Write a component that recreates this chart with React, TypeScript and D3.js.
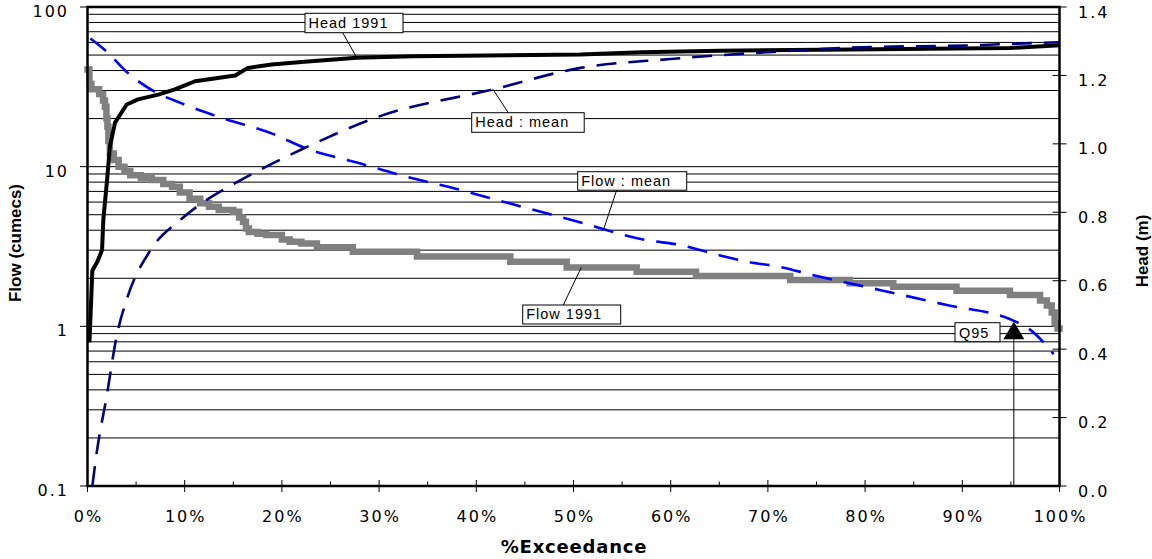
import React from 'react';
import * as d3 from 'd3';

// ---------- data ----------
const pctTicks = [0, 10, 20, 30, 40, 50, 60, 70, 80, 90, 100];
const pctMinorTicks = [5, 15, 25, 35, 45, 55, 65, 75, 85, 95];
const flowTicks = [0.1, 1, 10, 100];
const flowTickLabels = ['0.1', '1', '10', '100'];
const headTicks = [0, 0.2, 0.4, 0.6, 0.8, 1.0, 1.2, 1.4];
const headTickLabels = ['0.0', '0.2', '0.4', '0.6', '0.8', '1.0', '1.2', '1.4'];

// Flow 1991 (cumecs) — step series [pct exceedance, flow]
const flow1991: [number, number][] = [
  [0, 40.6], [0.2, 33], [0.4, 30.5], [1.2, 28.5], [1.6, 26], [1.8, 23.7], [1.95, 20],
  [2.05, 17.8], [2.15, 14.5], [2.3, 12.1], [2.7, 11], [3.2, 10], [3.8, 9.4], [4.4, 8.85],
  [5.5, 8.5], [6.6, 8.24], [7.8, 7.8], [8.7, 7.48], [9.5, 6.9], [10.5, 6.3], [11.6, 5.89],
  [12.5, 5.6], [13.5, 5.35], [15.0, 5.22], [15.6, 4.8], [16.0, 4.52], [16.3, 4.1],
  [16.6, 3.9], [17.5, 3.8], [18.4, 3.73], [20.0, 3.5], [20.8, 3.39], [22.0, 3.3],
  [23.6, 3.13], [27.3, 2.93], [33.9, 2.74], [43.5, 2.54], [49.3, 2.34], [56.5, 2.2],
  [62.6, 2.07], [72.3, 1.95], [78.4, 1.86], [82.9, 1.77], [89.4, 1.67], [94.9, 1.57],
  [98.0, 1.45], [98.7, 1.35], [99.2, 1.22], [99.5, 1.05], [99.8, 0.97], [100, 0.97],
];

// Flow : mean (cumecs)
const flowMean: [number, number][] = [
  [0.3, 63.5], [2, 52.4], [4.2, 38.4], [6.9, 29.5], [9.7, 24.9], [13.5, 20.5], [19, 16.1],
  [22.5, 13.0], [28, 10.5], [31.8, 9.0], [38.7, 7.06], [42.5, 6.1], [50, 4.6], [57.5, 3.47],
  [61, 3.23], [65, 2.79], [67.8, 2.54], [71.2, 2.36], [74.7, 2.09], [81.5, 1.69],
  [88.4, 1.36], [95.2, 1.09], [97, 0.95], [99.4, 0.67],
];

// Head 1991 (m)
const head1991: [number, number][] = [
  [0.2, 0.42], [0.5, 0.63], [1.0, 0.655], [1.5, 0.69], [1.63, 0.779], [2.0, 0.89],
  [2.31, 0.993], [2.83, 1.062], [4.03, 1.115], [5.2, 1.13], [7.28, 1.144], [9.0, 1.159],
  [11.06, 1.183], [15.2, 1.2], [16.5, 1.222], [18.95, 1.232], [22.0, 1.239], [27.7, 1.252],
  [33.5, 1.256], [50.7, 1.261], [57, 1.268], [65, 1.272], [78.4, 1.276], [94.9, 1.28],
  [100, 1.288],
];

// Head : mean (m)
const headMean: [number, number][] = [
  [0.5, 0], [0.95, 0.098], [1.97, 0.262], [3.0, 0.438], [4.03, 0.545], [6.5, 0.69],
  [9.6, 0.779], [12.3, 0.837], [15.5, 0.89], [18.7, 0.938], [22.5, 0.99], [30.1, 1.081],
  [41.7, 1.159], [50.7, 1.222], [60, 1.248], [70, 1.268], [78.4, 1.281], [92.1, 1.289],
  [95.6, 1.293], [100, 1.297],
];

// Q95 marker on the mean flow curve
const q95: [number, number] = [95.3, 1.07];

// annotation labels: text, target series axis, target point
const annotations = [
  { text: 'Head 1991', axis: 'head', pct: 27.7, value: 1.252 },
  { text: 'Head : mean', axis: 'head', pct: 41.7, value: 1.16 },
  { text: 'Flow : mean', axis: 'flow', pct: 53.1, value: 4.05 },
  { text: 'Flow 1991', axis: 'flow', pct: 50.8, value: 2.34 },
];
// label boxes (pixel layout)
const annotationBoxes = [
  { x: 305, y: 13.3, w: 98, h: 19.4, ax: 342.7, ay: 32.7 },
  { x: 471.7, y: 112.7, w: 112.5, h: 19.6, ax: 508.3, ay: 112.7 },
  { x: 577.7, y: 171.7, w: 109, h: 18.5, ax: 616.7, ay: 190 },
  { x: 522.7, y: 305, w: 98, h: 19, ax: 563.3, ay: 305 },
];

// ---------- layout ----------
const W = 1152;
const H = 559;
const L = 87.5, R = 1059.5, T = 7, B = 486;

export default function App() {
  const x = d3.scaleLinear().domain([0, 100]).range([L, R]);
  const yF = d3.scaleLog().domain([0.1, 100]).range([B, T]);
  const yH = d3.scaleLinear().domain([0, 1.4]).range([B, T]);

  const flowGrid: number[] = [];
  [0.1, 1, 10].forEach((d) => {
    for (let k = 1; k <= 9; k++) flowGrid.push(d * k);
  });
  flowGrid.push(100);

  const flow1991Path = d3.line<[number, number]>().x((d) => x(d[0])).y((d) => yF(d[1])).curve(d3.curveStepAfter)(flow1991) || '';
  const flowMeanPath = d3.line<[number, number]>().x((d) => x(d[0])).y((d) => yF(d[1])).curve(d3.curveMonotoneX)(flowMean) || '';
  const head1991Path = d3.line<[number, number]>().x((d) => x(d[0])).y((d) => yH(d[1])).curve(d3.curveLinear)(head1991) || '';
  const headMeanPath = d3.line<[number, number]>().x((d) => x(d[0])).y((d) => yH(d[1])).curve(d3.curveMonotoneX)(headMean) || '';

  const qx = x(q95[0]);
  const qy = yF(q95[1]);
  const triH = 17.5;
  const triW = 10.5;

  const tickFont = { fontFamily: '"DejaVu Sans", Verdana, sans-serif', fontSize: 16, letterSpacing: 2, fill: '#000' } as const;
  const annFont = { fontFamily: '"Liberation Sans", Arial, sans-serif', fontSize: 14.5, letterSpacing: 1, fill: '#000' } as const;
  const titleFont = { fontFamily: '"Liberation Sans", Arial, sans-serif', fontSize: 17, fontWeight: 'bold', fill: '#000' } as const;

  return (
    <svg width={W} height={H} style={{ position: 'absolute', left: 0, top: 0, background: '#fff' }}>
      <rect x={0} y={0} width={W} height={H} fill="#fff" />
      {/* gridlines */}
      {flowGrid.map((v, i) => (
        <line key={'g' + i} x1={L} x2={R} y1={yF(v)} y2={yF(v)} stroke="#000" strokeWidth={1} />
      ))}

      {/* series */}
      <path d={flow1991Path} fill="none" stroke="#808080" strokeWidth={6.5} strokeLinejoin="miter" strokeLinecap="square" />
      <path d={head1991Path} fill="none" stroke="#000" strokeWidth={4} strokeLinejoin="round" />
      <path d={flowMeanPath} fill="none" stroke="#0000ff" strokeWidth={2.6} strokeDasharray="20 12" />
      <path d={headMeanPath} fill="none" stroke="#000080" strokeWidth={2.6} strokeDasharray="20 12" />

      {/* Q95 drop line and marker */}
      <line x1={qx} x2={qx} y1={qy + triH} y2={B} stroke="#000" strokeWidth={1} />
      <path d={`M${qx},${qy} L${qx + triW},${qy + triH} L${qx - triW},${qy + triH} Z`} fill="#000" />
      <rect x={955} y={322.7} width={45} height={19} fill="#fff" stroke="#000" strokeWidth={1} />
      <text x={959} y={337.5} style={annFont}>Q95</text>

      {/* frame */}
      <rect x={L} y={T} width={R - L} height={B - T} fill="none" stroke="#000" strokeWidth={2.5} />

      {/* x axis ticks */}
      {pctTicks.map((p) => (
        <line key={'xt' + p} x1={x(p)} x2={x(p)} y1={B - 6} y2={B + 6} stroke="#000" strokeWidth={1} />
      ))}
      {pctMinorTicks.map((p) => (
        <line key={'xm' + p} x1={x(p)} x2={x(p)} y1={B - 4.5} y2={B} stroke="#000" strokeWidth={1} />
      ))}
      {pctTicks.map((p) => (
        <text key={'xl' + p} x={x(p) + 1} y={521.5} textAnchor="middle" style={tickFont}>{p + '%'}</text>
      ))}

      {/* left axis */}
      {flowTicks.map((v, i) => (
        <g key={'yl' + i}>
          <line x1={L - 7.5} x2={L} y1={yF(v)} y2={yF(v)} stroke="#000" strokeWidth={1} />
          <text x={69} y={yF(v) + 10} textAnchor="end" style={tickFont}>{flowTickLabels[i]}</text>
        </g>
      ))}

      {/* right axis */}
      {headTicks.map((v, i) => (
        <g key={'yr' + i}>
          <line x1={R - 7} x2={R + 7} y1={yH(v)} y2={yH(v)} stroke="#000" strokeWidth={1} />
          <text x={1078} y={yH(v) + 10.5} textAnchor="start" style={tickFont}>{headTickLabels[i]}</text>
        </g>
      ))}

      {/* annotations */}
      {annotations.map((a, i) => {
        const b = annotationBoxes[i];
        const tx = x(a.pct);
        const ty = a.axis === 'head' ? yH(a.value) : yF(a.value);
        return (
          <g key={'an' + i}>
            <line x1={b.ax} y1={b.ay} x2={tx} y2={ty} stroke="#000" strokeWidth={1} />
            <rect x={b.x} y={b.y} width={b.w} height={b.h} fill="#fff" stroke="#000" strokeWidth={1} />
            <text x={b.x + 3.5} y={b.y + 14.3} style={annFont}>{a.text}</text>
          </g>
        );
      })}

      {/* axis titles */}
      <text transform="translate(21,243) rotate(-90)" textAnchor="middle" style={titleFont}>
        Flow (cumecs)
      </text>
      <text transform="translate(1148,251) rotate(-90)" textAnchor="middle" style={titleFont}>
        Head (m)
      </text>
      <text
        x={574}
        y={553}
        textAnchor="middle"
        style={{ fontFamily: '"DejaVu Sans", Verdana, sans-serif', fontSize: 18, fontWeight: 'bold', letterSpacing: 0.8, fill: '#000' }}
      >
        %Exceedance
      </text>
    </svg>
  );
}
